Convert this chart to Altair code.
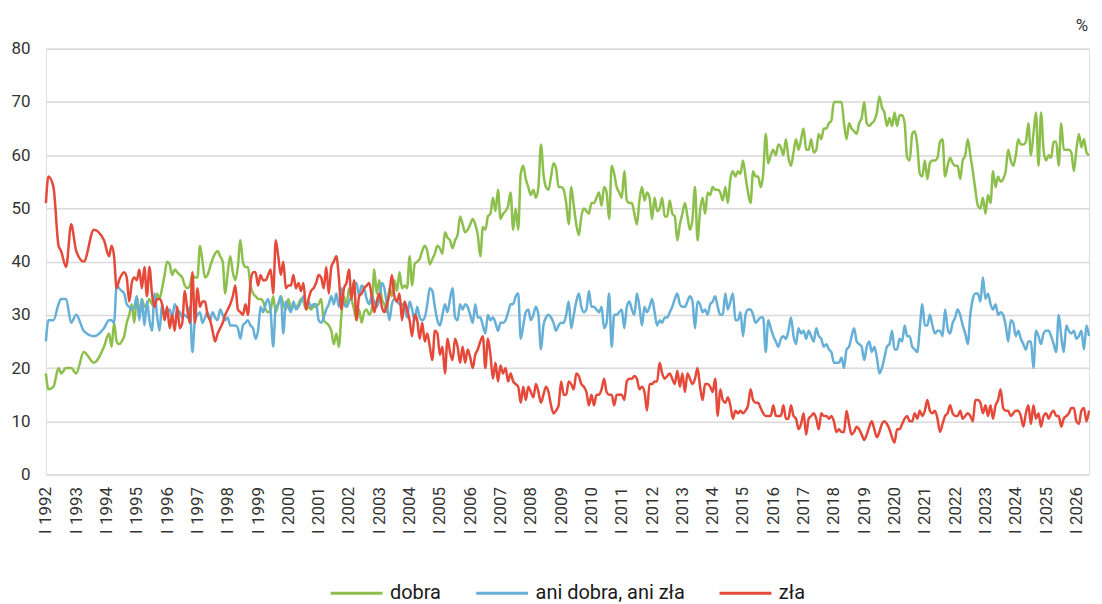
import altair as alt
import pandas as pd

series_names = ["dobra", "ani dobra, ani zła", "zła"]
series_colors = ["#8cbf4b", "#66afd6", "#e5493a"]

# month index: 0 = I 1992; early surveys were not monthly
early_months = [0, 1, 3, 5, 6, 8, 10, 12, 15, 19, 23, 25, 26, 27]
early_dobra = [19, 16, 16.5, 20, 19, 20, 20, 19, 23, 21, 24, 26.5, 24, 28.5]
early_ani = [25, 29, 29, 32, 33, 33, 28.5, 30, 27, 26, 27.5, 29, 29, 28.5]
early_zla = [51, 56, 54, 43, 42, 39, 47, 42, 40, 46, 44, 41, 43, 41]

monthly_start = 28  # V 1994

dobra_monthly = [
    25, 24.5, 25, 26, 28.5, 30, 32, 28.5,                      # 1994 V-XII
    33.5, 30, 33, 31.5, 32, 33, 32, 31.5, 34, 33, 35, 37.5,    # 1995
    40, 39.5, 37.5, 38.5, 38, 37.5, 37, 35.5, 35, 35.5, 37.5, 37,  # 1996
    37, 43, 40, 37, 37.5, 39, 40.5, 41.5, 42, 41, 40, 34,      # 1997
    38, 41, 38, 36.5, 39, 44, 40, 39, 39, 35.5, 34, 33.5,      # 1998
    33, 33, 32.5, 31, 30.5, 31, 33.5, 30.5, 32, 33.5, 32, 31,  # 1999
    33, 31, 31.5, 31.5, 32, 33, 32.5, 31, 31.5, 31, 31.5, 31.5,  # 2000
    32, 33, 29, 28.5, 28, 27, 24.5, 26.5, 24, 30, 33.5, 31.5,  # 2001
    35, 33, 31, 29, 31, 28.5, 30.5, 31, 30, 31, 38.5, 34,      # 2002
    36.5, 33, 32, 30.5, 35, 33.5, 36.5, 34.5, 38, 35, 35.5, 35,  # 2003
    41, 35.5, 39.5, 40, 40.5, 42, 43, 42, 39.5, 40.5, 41.5, 43,  # 2004
    42.5, 41.5, 45.5, 44.5, 44, 42.5, 44, 45, 48.5, 47, 45.5, 46,  # 2005
    47, 48, 47, 45, 41, 46.5, 46, 48.5, 49, 52, 49.5, 53.5,    # 2006
    48, 49, 49.5, 50.5, 53, 46, 50, 46, 56.5, 58, 55.5, 54,    # 2007
    52.5, 53.5, 52, 54, 62, 56.5, 54, 53.5, 56, 58.5, 57.5, 54,  # 2008
    54, 53.5, 51, 47, 54, 50.5, 47, 45, 48.5, 50, 49.5, 49,    # 2009
    51, 51, 52, 53, 50.5, 54, 53, 48, 58, 56.5, 54, 53,        # 2010
    52, 57, 51.5, 51, 51, 49, 47, 51.5, 54, 51.5, 53, 52,      # 2011
    48, 52, 49.5, 50, 52, 48.5, 48.5, 51.5, 49, 48.5, 44, 47,  # 2012
    49, 51, 48.5, 46, 48, 54, 44, 49.5, 52, 49, 53, 52.5,      # 2013
    54, 53.5, 53.5, 53, 51.5, 54, 51, 55.5, 57, 56, 57, 56.5,  # 2014
    59, 56, 53, 51, 57, 56, 56, 54, 56.5, 64, 58.5, 60,        # 2015
    61, 60, 62, 61.5, 60, 63, 59.5, 58, 60.5, 63, 61, 63,      # 2016
    65, 61, 61, 63, 60.5, 61, 64, 63, 65, 65, 66, 66.5,        # 2017
    70, 70, 70, 70, 66, 63, 66, 65, 64.5, 64, 66, 67,          # 2018
    70, 66, 65.5, 66, 66.5, 68, 71, 69, 68, 65.5, 67, 65.5,    # 2019
    68, 65.5, 67.5, 67.5, 66, 59.5, 59, 64, 64.5, 62, 56.5, 56,  # 2020
    59, 55.5, 58.5, 59, 59, 59.5, 62.5, 63, 56, 58, 59.5, 58.5,  # 2021
    58, 58, 55.5, 59, 60, 63, 60, 57, 53.5, 50.5, 50, 52,      # 2022
    49, 52.5, 51, 57, 54, 56, 55, 55.5, 57, 61, 59, 58,        # 2023
    60, 63, 62, 62, 62.5, 66, 60, 64, 68, 58, 68, 61,          # 2024
    59, 60, 59.5, 62.5, 62.5, 58, 66, 61, 61, 61, 60.5, 57,    # 2025
    61, 64, 61.5, 63, 60.5, 60,                                # 2026
]

ani_monthly = [
    35.5, 35, 34.5, 34, 32, 31.5, 31, 31.5,                    # 1994 V-XII
    33.5, 29, 33, 28, 32.5, 29, 27, 34, 30, 27, 32, 30,        # 1995
    30.5, 31, 29.5, 32, 31, 30.5, 29.5, 30, 29.5, 31.5, 23, 29,  # 1996
    30, 30.5, 28.5, 29.5, 30.5, 29, 30.5, 29.5, 29, 31, 30, 29,  # 1997
    29.5, 28, 28, 28, 27.5, 25.5, 28, 28.5, 29, 28, 27.5, 25.5,  # 1998
    27, 31.5, 30.5, 32, 33, 30.5, 24, 31.5, 32, 33.5, 26.5, 32.5,  # 1999
    31.5, 30.5, 32.5, 31, 31.5, 32.5, 33.5, 31.5, 32.5, 31.5, 32, 32,  # 2000
    29, 28.5, 29.5, 31, 32, 33.5, 32, 34, 31.5, 35, 32, 31.5,  # 2001
    32.5, 33.5, 36, 36, 33.5, 35.5, 35, 33, 32, 33.5, 32.5, 31.5,  # 2002
    33, 36, 35, 32, 29, 32, 33, 32.5, 32, 32, 31.5, 29.5,      # 2003
    32.5, 31, 29, 31.5, 29.5, 29, 29.5, 32, 35, 34.5, 31.5, 29,  # 2004
    28, 30, 32, 30.5, 33, 35, 29.5, 29, 32, 31, 32, 31.5,      # 2005
    30, 28.5, 32, 29.5, 29.5, 28, 26.5, 30, 29, 29.5, 28.5, 27,  # 2006
    28.5, 28.5, 29, 30.5, 32, 32, 33.5, 34, 25.5, 28, 30.5, 31,  # 2007
    29, 30, 31.5, 30, 23.5, 28, 29.5, 30, 29.5, 28.5, 27, 28,  # 2008
    28.5, 28.5, 30, 32.5, 27.5, 30, 32.5, 34, 31.5, 30.5, 31, 34.5,  # 2009
    31.5, 31.5, 31, 30.5, 31.5, 27.5, 28.5, 34, 24, 30, 30, 30.5,  # 2010
    31, 27.5, 31.5, 32.5, 31, 30, 34, 31.5, 28, 31.5, 30.5, 31.5,  # 2011
    33, 30.5, 28, 29, 28.5, 29.5, 29.5, 30.5, 31.5, 33, 34, 32,  # 2012
    31.5, 31.5, 32.5, 33.5, 32.5, 27.5, 32.5, 32, 30.5, 31, 30, 32,  # 2013
    32.5, 33.5, 31.5, 30, 30, 34, 31, 32.5, 34, 29, 29, 30.5,  # 2014
    26, 30, 31, 31, 30, 28.5, 29, 29.5, 29.5, 23, 29, 27.5,    # 2015
    26, 25, 24, 25.5, 26, 25.5, 27, 29.5, 26, 24.5, 27.5, 26.5,  # 2016
    27, 25.5, 27, 26, 25, 27.5, 26, 25.5, 24, 24.5, 23.5, 23,  # 2017
    21, 21, 21, 22, 20, 23.5, 24, 26, 27.5, 25, 24.5, 24,      # 2018
    21.5, 24, 25, 23, 24, 22, 19, 20, 22, 24, 24.5, 27,        # 2019
    23.5, 23.5, 25.5, 25, 28, 26, 26, 24, 23.5, 23, 27.5, 32,  # 2020
    28, 28, 30, 28, 26.5, 27, 27, 26, 31, 27.5, 26.5, 28.5,    # 2021
    29.5, 31, 30, 28, 26.5, 24.5, 30, 33, 34, 34, 32.5, 37,    # 2022
    33, 34, 32, 31, 32, 30, 30.5, 30, 28, 25, 29, 28.5,        # 2023
    26, 27, 25.5, 24.5, 23.5, 25, 25, 20, 27, 26, 24.5, 26.5,  # 2024
    27, 27, 26, 24.5, 23, 30, 26, 23, 28, 27, 26.5, 27,        # 2025
    25.5, 26, 27, 23.5, 28, 26,                                # 2026
]

zla_monthly = [
    35, 36.5, 37.5, 38, 37, 32.5, 36, 37,                      # 1994 V-XII
    36.5, 38.5, 35, 39, 33.5, 39, 34, 31.5, 33, 33, 32, 29,    # 1995
    31.5, 27.5, 30, 27, 31.5, 27.5, 28.5, 34.5, 31, 28.5, 38, 28.5,  # 1996
    35, 31.5, 32.5, 32.5, 30, 29, 27, 25, 26.5, 27.5, 28.5, 30,  # 1997
    31, 32, 33.5, 35.5, 31, 30.5, 30, 32, 30, 36, 38, 38,      # 1998
    35.5, 37.5, 36.5, 36.5, 37.5, 38.5, 34, 44, 41, 37.5, 40, 35,  # 1999
    35.5, 35.5, 37.5, 35, 36, 34.5, 36, 31, 33, 34.5, 35, 36,  # 2000
    37.5, 37, 35, 39, 34, 39, 40, 41, 37, 31, 35, 36,          # 2001
    38.5, 33, 36.5, 29, 33.5, 34, 35, 35.5, 36, 33.5, 30.5, 32.5,  # 2002
    34, 31.5, 30.5, 32, 34, 37.5, 33.5, 32.5, 34, 29, 32.5, 31,  # 2003
    29, 26, 30, 29, 25.5, 28.5, 25, 26.5, 24, 21.5, 27, 26.5,  # 2004
    22.5, 24, 19, 25.5, 23, 21.5, 25.5, 24, 21, 24, 21, 23.5,  # 2005
    22, 20, 22.5, 23.5, 25, 26, 20, 25.5, 22.5, 18, 21, 17.5,  # 2006
    20.5, 19, 20, 17.5, 19, 17.5, 17, 16.5, 13.5, 16.5, 14, 16.5,  # 2007
    15.5, 14.5, 17, 15.5, 13.5, 15, 16.5, 15.5, 13, 11.5, 12, 13,  # 2008
    17.5, 15, 15, 17.5, 17, 16, 19, 18.5, 17, 16.5, 15.5, 13,  # 2009
    15, 13, 15, 15, 16, 18, 15.5, 15, 15, 13, 15, 15,          # 2010
    15, 14, 17.5, 18, 18, 18.5, 18, 16, 16.5, 15.5, 12, 17,    # 2011
    17, 17.5, 17.5, 21, 19, 18, 18.5, 19, 18, 17, 19.5, 16.5,  # 2012
    19, 15.5, 19, 18, 17, 18, 20, 16.5, 14, 17, 17, 16.5,      # 2013
    15.5, 18, 11, 16, 14, 13.5, 14.5, 13, 10.5, 12, 11.5, 12,  # 2014
    11.5, 12, 13, 16, 14, 13.5, 13.5, 12.5, 11.5, 11, 11, 11,  # 2015
    13, 11, 11, 11, 13, 10.5, 10.5, 13, 11, 10.5, 8.5, 9.5,    # 2016
    11.5, 7.5, 10.5, 11, 11.5, 10.5, 8.5, 11.5, 11, 11, 10.5, 11,  # 2017
    10, 8, 8.5, 8, 8, 12, 9.5, 7.5, 8, 9, 8.5, 7.5,            # 2018
    6.5, 7.5, 9, 10, 8.5, 7, 8, 9.5, 10, 9.5, 8.5, 7,          # 2019
    6, 8.5, 8.5, 9.5, 10.5, 11, 10, 10, 11.5, 10.5, 12, 11,    # 2020
    12, 14, 12, 11.5, 12, 10.5, 8, 9.5, 11, 11.5, 13, 11.5,    # 2021
    11, 11, 12, 10.5, 11, 11.5, 11, 10, 14, 14, 13.5, 11.5,    # 2022
    13, 11, 13, 10.5, 13, 14, 16, 12.5, 12, 12, 11, 11.5,      # 2023
    12, 12, 11, 9, 11.5, 13, 9.5, 13, 10.5, 11.5, 9, 11,       # 2024
    11.5, 10.5, 11.5, 12, 11, 11, 9, 10.5, 11, 11.5, 12.5, 12.5,  # 2025
    10, 9.5, 12, 12.5, 10, 12,                                 # 2026
]

y_ticks = [0, 10, 20, 30, 40, 50, 60, 70, 80]

n = len(dobra_monthly)
assert len(ani_monthly) == n and len(zla_monthly) == n, (len(dobra_monthly), len(ani_monthly), len(zla_monthly))
months = early_months + list(range(monthly_start, monthly_start + n))
year_ticks = list(range(0, months[-1] + 1, 12))

rows = []
for name, early, monthly in zip(series_names,
                                [early_dobra, early_ani, early_zla],
                                [dobra_monthly, ani_monthly, zla_monthly]):
    for m, v in zip(months, early + monthly):
        rows.append({"m": m, "v": v, "s": name})
df = pd.DataFrame(rows)

W, H = 1046, 427
FONT = "Roboto"

label_expr = "datum.value == 12 ? 'I 1993\u00a0' : 'I ' + (1992 + datum.value / 12)"

x_enc = alt.X(
    "m:Q",
    scale=alt.Scale(domain=[0, months[-1]], nice=False, zero=False),
    axis=alt.Axis(values=year_ticks, labelExpr=label_expr,
                  labelAngle=270, labelAlign="right", labelBaseline="middle",
                  labelPadding=12, ticks=False, domain=False, grid=False,
                  labelFontSize=17, labelFont=FONT, labelColor="#333333",
                  labelOverlap=False, title=None),
)
y_enc = alt.Y(
    "v:Q",
    scale=alt.Scale(domain=[0, 80], nice=False),
    axis=alt.Axis(values=y_ticks, grid=True, gridColor="#d9d9d9", gridWidth=1.5,
                  ticks=False, domain=False, labelPadding=16, labelFontSize=17,
                  labelFont=FONT, labelColor="#333333", title=None),
)
color_enc = alt.Color(
    "s:N",
    scale=alt.Scale(domain=series_names, range=series_colors),
    legend=alt.Legend(title=None, orient="none", legendX=284, legendY=536,
                      direction="horizontal", symbolType="stroke",
                      symbolStrokeWidth=3, symbolSize=2704, clipHeight=20,
                      labelFontSize=20, labelFont=FONT, labelColor="#1a1a1a",
                      columnPadding=33, labelOffset=6, padding=0),
)

base = alt.Chart(df).encode(x=x_enc, y=y_enc, color=color_enc)
lines = [
    base.transform_filter(alt.datum.s == name).mark_line(strokeWidth=2.5, interpolate="monotone")
    for name in series_names
]

pct = alt.Chart(pd.DataFrame({"t": ["%"]})).mark_text(
    fontSize=17, font=FONT, color="#333333", align="center", baseline="middle"
).encode(x=alt.value(W - 7), y=alt.value(-23), text="t:N")

chart = alt.layer(*lines, pct).properties(
    width=W, height=H,
    padding={"left": 2, "top": 8, "right": 0, "bottom": 0},
).configure_view(stroke=None).configure(font=FONT)

chart.save("out.html", embed_options={"renderer": "svg", "actions": False})
